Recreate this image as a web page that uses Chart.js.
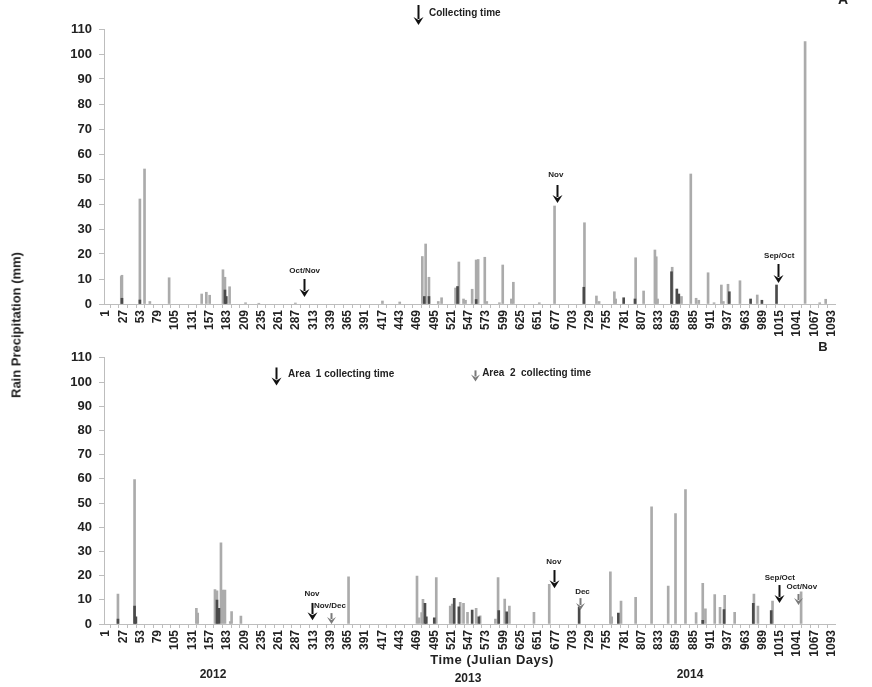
<!DOCTYPE html>
<html>
<head>
<meta charset="utf-8">
<script src="https://cdn.jsdelivr.net/npm/chart.js@4/dist/chart.umd.min.js"></script>
<style>
  body { margin: 0; background: #fff; }
  #wrap { position: relative; width: 872px; height: 687px; font-family: "Liberation Sans", Arial, sans-serif; }
  canvas { position: absolute; left: 0; }
  .txt { position: absolute; font-weight: bold; color: #222; white-space: nowrap; }
</style>
</head>
<body>
<div id="wrap">
  <canvas id="chartA" width="872" height="343" style="top:0;width:872px;height:343px"></canvas>
  <canvas id="chartB" width="872" height="344" style="top:343px;width:872px;height:344px"></canvas>
  <div class="txt" style="left:16px;top:325px;font-size:13px;transform:translate(-50%,-50%) rotate(-90deg)">Rain Precipitation (mm)</div>
  <div class="txt" style="left:492px;top:659px;font-size:13px;transform:translate(-50%,-50%);letter-spacing:0.5px">Time (Julian Days)</div>
  <div class="txt" style="left:213px;top:674px;font-size:12px;transform:translate(-50%,-50%)">2012</div>
  <div class="txt" style="left:468px;top:678px;font-size:12px;transform:translate(-50%,-50%)">2013</div>
  <div class="txt" style="left:690px;top:674px;font-size:12px;transform:translate(-50%,-50%)">2014</div>
  <div class="txt" style="left:823px;top:346px;font-size:13px;transform:translate(-50%,-50%)">B</div>
</div>
<script>
// tick positions on the day axis
const xTicks = [1, 27, 53, 79, 105, 131, 157, 183, 209, 235, 261, 287, 313, 339, 365, 391, 417, 443, 469, 495, 521, 547, 573, 599, 625, 651, 677, 703, 729, 755, 781, 807, 833, 859, 885, 911, 937, 963, 989, 1015, 1041, 1067, 1093];

// panel A - light bars
const aLightDays = [24, 25, 52, 59, 67, 96, 145, 152, 157, 177, 180, 187, 211, 231, 286, 417, 443, 477, 482, 487, 501, 506, 527, 532, 539, 542, 552, 558, 561, 571, 574, 593, 598, 611, 614, 653, 676, 721, 739, 743, 766, 768, 798, 810, 827, 829, 831, 853, 867, 881, 889, 893, 907, 916, 927, 930, 937, 955, 981, 1053, 1075, 1084];
const aLightRain = [11, 11.5, 42, 54, 1, 10.5, 4, 4.7, 3.5, 13.7, 10.7, 6.9, 0.5, 0.3, 0.4, 1.2, 0.8, 19, 24, 10.7, 1, 2.5, 6.4, 16.8, 2, 1.5, 5.9, 17.6, 17.8, 18.7, 1, 0.5, 15.6, 2, 8.7, 0.5, 39.2, 32.5, 3.2, 1, 4.9, 2, 18.5, 5.2, 21.6, 18.9, 2, 14.7, 3, 52, 2.3, 1.5, 12.5, 0.5, 7.6, 1, 7.9, 9.3, 3.6, 105, 0.5, 1.9];
// panel A - dark bars
const aDarkDays = [25, 52, 180, 182, 480, 487, 530, 558, 720, 780, 797, 852, 860, 863, 939, 971, 988, 1010];
const aDarkRain = [2.3, 1.6, 5.6, 3, 3, 3, 7, 1.8, 6.7, 2.5, 2, 12.9, 6, 4, 4.9, 2, 1.5, 7.6];

// panel B - light bars
const bLightDays = [19, 44, 137, 139, 165, 168, 174, 177, 180, 188, 190, 204, 366, 469, 472, 476, 478, 498, 519, 522, 534, 539, 545, 558, 564, 587, 591, 601, 608, 645, 668, 760, 762, 776, 798, 822, 847, 858, 873, 889, 899, 903, 917, 925, 932, 947, 976, 982, 1004, 1047];
const bLightRain = [12.4, 59.7, 6.5, 4.5, 14.2, 13.7, 33.5, 14, 14, 1, 5.1, 3.3, 19.5, 19.8, 2.5, 4.7, 10.2, 19.2, 7.4, 8.2, 9, 8.5, 4.8, 6.5, 3.4, 2, 19.2, 10.3, 7.4, 4.8, 16.4, 21.6, 3, 9.5, 11, 48.4, 15.7, 45.6, 55.5, 4.7, 16.8, 6.3, 12.2, 6.9, 11.8, 4.8, 12.4, 7.4, 9.5, 13.3];
// panel B - dark bars
const bDarkDays = [19, 44, 46, 168, 171, 481, 483, 495, 525, 532, 552, 562, 592, 604, 713, 772, 899, 931, 975, 1002];
const bDarkRain = [2, 7.4, 3, 9.9, 6.5, 8.5, 3, 2.5, 10.6, 7.1, 5.8, 3, 5.5, 5, 7, 4.5, 1.5, 6, 8.5, 5.5];

// arrows and notes (day, mm)
const notesA = {
    arrows: [
        { day: 470, from: 119.6, to: 111.6 },
        { day: 299, from: 10, to: 2.8 },
        { day: 679, from: 47.6, to: 40.4 },
        { day: 1012, from: 16, to: 8.4 }
    ],
    texts: [
        { day: 487, mm: 116.4, text: "Collecting time", size: 10, align: "left" },
        { day: 300, mm: 13.2, text: "Oct/Nov", size: 8 },
        { day: 678, mm: 51.6, text: "Nov", size: 8 },
        { day: 1014, mm: 19.2, text: "Sep/Oct", size: 8 },
        { day: 1110, mm: 121.5, text: "A", size: 14 }
    ]
};
const notesB = {
    arrows: [
        { day: 257, from: 106, to: 98.6 },
        { day: 556, from: 104.8, to: 100.2, gray: true },
        { day: 311, from: 8.7, to: 1.6 },
        { day: 339, from: 4.5, to: 0, gray: true },
        { day: 675, from: 22.3, to: 14.8 },
        { day: 715, from: 10.7, to: 5.8, gray: true },
        { day: 1013, from: 16.1, to: 8.7 },
        { day: 1042, from: 12.4, to: 7.8, gray: true }
    ],
    texts: [
        { day: 275, mm: 103, text: "Area  1 collecting time", size: 10, align: "left" },
        { day: 567, mm: 103.5, text: "Area  2  collecting time", size: 10, align: "left" },
        { day: 311, mm: 12.4, text: "Nov", size: 8 },
        { day: 338, mm: 7.4, text: "Nov/Dec", size: 8 },
        { day: 675, mm: 25.6, text: "Nov", size: 8 },
        { day: 718, mm: 13.2, text: "Dec", size: 8 },
        { day: 1015, mm: 19, text: "Sep/Oct", size: 8 },
        { day: 1048, mm: 15.3, text: "Oct/Nov", size: 8 }
    ]
};

const allTicks = [];
xTicks.forEach((t, i) => {
    allTicks.push(t);
    if (i < xTicks.length - 1) allTicks.push((t + xTicks[i + 1]) / 2);
});

const marksPlugin = {
    id: "marks",
    afterDraw(chart, args, opts) {
        const ctx = chart.ctx;
        const xs = chart.scales.x, ys = chart.scales.y;
        opts.arrows.forEach(a => {
            const x = Math.round(xs.getPixelForValue(a.day)) + 0.5;
            const y1 = ys.getPixelForValue(a.from);
            const y2 = ys.getPixelForValue(a.to);
            const head = a.gray ? 7 : 8;
            const hw = a.gray ? 4.5 : 5;
            ctx.save();
            ctx.strokeStyle = a.gray ? "#7a7a7a" : "#111";
            ctx.fillStyle = ctx.strokeStyle;
            ctx.lineWidth = 2;
            ctx.beginPath();
            ctx.moveTo(x, y1);
            ctx.lineTo(x, y2 - head + 2);
            ctx.stroke();
            ctx.beginPath();
            ctx.moveTo(x - hw, y2 - head);
            ctx.lineTo(x, y2);
            ctx.lineTo(x + hw, y2 - head);
            ctx.lineTo(x, y2 - head + 3);
            ctx.closePath();
            ctx.fill();
            ctx.restore();
        });
        opts.texts.forEach(t => {
            ctx.save();
            ctx.font = "bold " + t.size + "px 'Liberation Sans', Arial, sans-serif";
            ctx.fillStyle = "#222";
            ctx.textAlign = t.align || "center";
            ctx.textBaseline = "middle";
            ctx.fillText(t.text, xs.getPixelForValue(t.day), ys.getPixelForValue(t.mm));
            ctx.restore();
        });
    }
};

function makeChart(id, lightDays, lightRain, darkDays, darkRain, notes, padTop, xHeight) {
    const light = lightDays.map((d, i) => ({ x: d, y: lightRain[i] }));
    const dark = darkDays.map((d, i) => ({ x: d, y: darkRain[i] }));
    return new Chart(document.getElementById(id), {
        type: "bar",
        data: {
            datasets: [
                { data: dark, backgroundColor: "#4a4a4a", barThickness: 2, grouped: false },
                { data: light, backgroundColor: "#ababab", barThickness: 2, grouped: false }
            ]
        },
        plugins: [marksPlugin],
        options: {
            responsive: false,
            animation: false,
            layout: { padding: { left: 0, right: 37, top: padTop, bottom: 0 } },
            plugins: {
                legend: { display: false },
                tooltip: { enabled: false },
                marks: notes
            },
            scales: {
                x: {
                    type: "linear",
                    min: -2,
                    max: 1098,
                    offset: false,
                    afterBuildTicks: s => { s.ticks = allTicks.map(v => ({ value: v })); },
                    afterFit: s => { s.height = xHeight; },
                    grid: { drawOnChartArea: false, tickLength: 4, color: "#bdbdbd" },
                    border: { color: "#bdbdbd" },
                    ticks: {
                        autoSkip: false,
                        minRotation: 90,
                        maxRotation: 90,
                        padding: 2,
                        color: "#222",
                        font: { family: "'Liberation Sans Narrow', 'Arial Narrow', 'Liberation Sans', sans-serif", size: 12, weight: "bold" },
                        callback: v => (xTicks.includes(v) ? String(v) : "")
                    }
                },
                y: {
                    min: 0,
                    max: 110,
                    afterFit: s => { s.width = 104; },
                    grid: { drawOnChartArea: false, tickLength: 5, color: "#bdbdbd" },
                    border: { color: "#bdbdbd" },
                    ticks: {
                        stepSize: 10,
                        padding: 7,
                        color: "#222",
                        font: { family: "'Liberation Sans', Arial, sans-serif", size: 13, weight: "bold" }
                    }
                }
            }
        }
    });
}

makeChart("chartA", aLightDays, aLightRain, aDarkDays, aDarkRain, notesA, 29, 39);
makeChart("chartB", bLightDays, bLightRain, bDarkDays, bDarkRain, notesB, 14, 63);
</script>
</body>
</html>
